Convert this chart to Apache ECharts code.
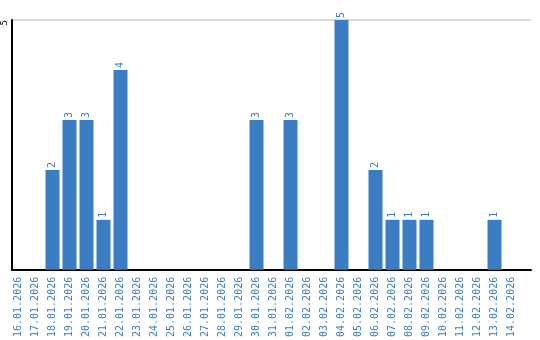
<!DOCTYPE html>
<html><head><meta charset="utf-8">
<script src="https://cdn.jsdelivr.net/npm/echarts@6/dist/echarts.min.js"></script>
<style>html,body{margin:0;padding:0;background:#fff}#c{width:540px;height:340px}</style>
</head><body><div id="c"></div>
<script>
const categories = ['16.01.2026','17.01.2026','18.01.2026','19.01.2026','20.01.2026','21.01.2026','22.01.2026','23.01.2026','24.01.2026','25.01.2026','26.01.2026','27.01.2026','28.01.2026','29.01.2026','30.01.2026','31.01.2026','01.02.2026','02.02.2026','03.02.2026','04.02.2026','05.02.2026','06.02.2026','07.02.2026','08.02.2026','09.02.2026','10.02.2026','11.02.2026','12.02.2026','13.02.2026','14.02.2026'];
const values = [0,0,2,3,3,1,4,0,0,0,0,0,0,0,3,0,3,0,0,5,0,2,1,1,1,0,0,0,1,0];
const yMax = 5;
const yInterval = 5;

const blue = '#3b7dc3';
const font = 'DejaVu Sans Mono';
const chart = echarts.init(document.getElementById('c'), null, {renderer:'canvas'});
chart.setOption({
  animation: false,
  grid: [
    {left: 10, top: 20, width: 510, bottom: 70},
    {left: 10, top: 20, right: 9, bottom: 70}
  ],
  xAxis: [
    {type: 'category', gridIndex: 0, data: categories, boundaryGap: true,
     axisLine: {show: false}, axisTick: {show: false}, splitLine: {show: false},
     axisLabel: {rotate: 90, interval: 0, color: blue, fontFamily: font, fontSize: 10, margin: 7}},
    {type: 'value', gridIndex: 1, min: 0, max: 1,
     axisLine: {show: true, onZero: false, lineStyle: {color: '#000', width: 2}},
     axisTick: {show: false}, axisLabel: {show: false}, splitLine: {show: false}}
  ],
  yAxis: [
    {type: 'value', gridIndex: 0, min: 0, max: yMax, interval: yInterval, show: false},
    {type: 'value', gridIndex: 1, min: 0, max: yMax, interval: yInterval,
     axisLine: {show: true, lineStyle: {color: '#000', width: 2}},
     axisTick: {show: false},
     splitLine: {show: true, lineStyle: {color: '#cccccc', width: 1.5}},
     axisLabel: {rotate: 90, color: '#000', fontFamily: font, fontSize: 9, margin: 3,
       align: 'right', verticalAlign: 'bottom', padding: [0, 0, 0, 0],
       formatter: v => v === 0 ? '' : String(v),
       rich: {}}}
  ],
  series: [{
    type: 'bar', xAxisIndex: 0, yAxisIndex: 0, data: values,
    barWidth: 14, barGap: '0%',
    itemStyle: {color: blue},
    label: {show: true, position: 'top', rotate: 90, distance: 2, align: 'left', verticalAlign: 'middle',
      color: blue, fontFamily: font, fontSize: 10,
      formatter: p => p.value > 0 ? String(p.value) : ''}
  }]
});
</script></body></html>
